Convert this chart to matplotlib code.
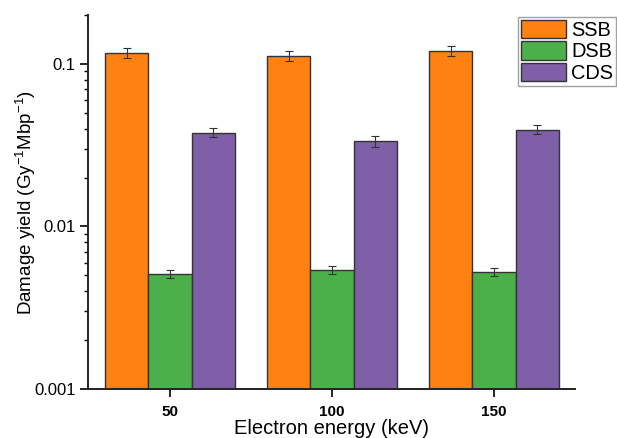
import numpy as np
import matplotlib.pyplot as plt
from matplotlib.ticker import LogLocator, NullFormatter, FixedFormatter

plt.rcParams['font.family'] = ['Liberation Sans', 'DejaVu Sans']

energies = [50, 100, 150]
series = ["SSB", "DSB", "CDS"]
ssb = [0.1173, 0.1125, 0.1202]
ssb_err = [0.008, 0.008, 0.008]
dsb = [0.00509, 0.0054, 0.00526]
dsb_err = [0.0003, 0.0003, 0.0003]
cds = [0.0378, 0.0334, 0.0394]
cds_err = [0.0025, 0.0025, 0.0025]
colors = ["#FF8112", "#4BB04A", "#7F5FA8"]

fig = plt.figure(figsize=(6.17, 4.38), dpi=100)
ax = fig.add_axes([0.1426, 0.1119, 0.932 - 0.1426, 0.9658 - 0.1119])

w = 13.3
x = np.array(energies, dtype=float)
vals = [ssb, dsb, cds]
errs = [ssb_err, dsb_err, cds_err]
for i, (v, e) in enumerate(zip(vals, errs)):
    ax.bar(x + (i - 1) * w, v, width=w, color=colors[i], edgecolor="#333333",
           linewidth=1.0, label=series[i],
           yerr=e, capsize=3, error_kw=dict(ecolor="#333333", elinewidth=0.8, capthick=0.8))

ax.set_yscale("log")
ax.set_ylim(0.001, 0.2)
ax.set_xlim(24.7, 175)
ax.set_yticks([0.001, 0.01, 0.1])
ax.yaxis.set_major_formatter(FixedFormatter(["0.001", "0.01", "0.1"]))
ax.yaxis.set_minor_locator(LogLocator(base=10, subs=np.arange(2, 10)))
ax.yaxis.set_minor_formatter(NullFormatter())
ax.set_xticks(energies)
ax.set_xticklabels([str(e) for e in energies], fontweight="bold", fontsize=11)
ax.tick_params(axis="y", which="major", labelsize=12, length=5.5, width=1.2, direction="out")
ax.tick_params(axis="y", which="minor", length=3, width=1.0, direction="out")
ax.tick_params(axis="x", which="major", length=5.5, width=1.2, direction="out", pad=6)
for s in ["top", "right"]:
    ax.spines[s].set_visible(False)
for s in ["left", "bottom"]:
    ax.spines[s].set_linewidth(1.4)
    ax.spines[s].set_color("#222222")

ax.set_xlabel("Electron energy (keV)", fontsize=14.5)
ax.xaxis.set_label_coords(0.5, -0.080)
ax.set_ylabel("Damage yield (Gy$^{\\mathregular{-1}}$Mbp$^{\\mathregular{-1}}$)", fontsize=13.5)
ax.yaxis.set_label_coords(-0.103, 0.5)

leg = fig.legend(loc="upper left", bbox_to_anchor=(517.5 / 617, 1 - 16.5 / 438), fontsize=14.4,
                 frameon=True, fancybox=False, edgecolor="#888888", borderpad=0.15,
                 labelspacing=0.08, handlelength=2.25, handleheight=1.05, handletextpad=0.28,
                 borderaxespad=0)
leg.get_frame().set_linewidth(1.0)

fig.savefig("out.png", dpi=100)
